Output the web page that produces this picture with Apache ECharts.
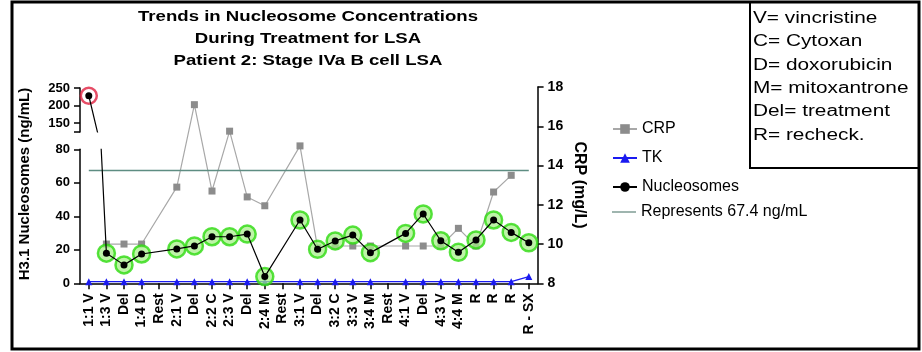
<!DOCTYPE html>
<html><head><meta charset="utf-8">
<script src="https://cdn.jsdelivr.net/npm/echarts@6/dist/echarts.min.js"></script>
<style>html,body{margin:0;padding:0;background:#fff}#c{width:922px;height:352px}</style>
</head><body><div id="c"></div>
<script>
const categories = ['1:1 V','1:3 V','Del','1:4 D','Rest','2:1 V','Del','2:2 C','2:3 V','Del','2:4 M','Rest','3:1 V','Del','3:2 C','3:3 V','3:4 M','Rest','4:1 V','Del','4:3 V','4:4 M','R','R','R','R - SX'];
const nucleosomes = [228, 18, 11, 17.5, null, 20.5, 22.3, 27.8, 27.8, 29.4, 4, null, 37.8, 20.3, 25.3, 28.8, 18.3, null, 29.8, 41.4, 25.4, 18.5, 25.9, 37.8, 30.4, 24.2];
const crp = [null, 10, 10, 10, null, 12.9, 17.1, 12.7, 15.75, 12.4, 11.95, null, 15.0, 9.8, 9.9, 9.9, 9.9, null, 9.9, 9.9, 9.9, 10.8, 9.9, 12.65, 13.5, null];
const tk = [1, 1, 1, 1, null, 1, 1, 1, 1, 1, 1, null, 1, 1, 1, 1, 1, null, 1, 1, 1, 1, 1, 1, 1, 4];
const refLevel = 67.4;
const upperTickLabels = [150, 200, 250];
const titleLines = ['Trends in Nucleosome Concentrations', 'During Treatment for LSA', 'Patient 2: Stage IVa B cell LSA'];
const abbreviations = ['V= vincristine', 'C= Cytoxan', 'D= doxorubicin', 'M= mitoxantrone', 'Del= treatment', 'R= recheck.'];

const FONT = '"Liberation Sans", Arial, sans-serif';
const chart = echarts.init(document.getElementById('c'));
const GL = 80, GW = 457.6;
const axisLineStyle = { show: true, lineStyle: { color: '#000', width: 1.5 } };
const tickStyle = { show: true, length: 6, lineStyle: { color: '#000', width: 1.5 } };
const catAxis = (gi, show) => ({
  type: 'category', gridIndex: gi, data: categories, boundaryGap: true, show: show,
  axisLine: axisLineStyle,
  axisTick: Object.assign({ alignWithLabel: true }, tickStyle),
  axisLabel: { rotate: 90, interval: 0, margin: 10, color: '#000', fontWeight: 'bold', fontSize: 14, fontFamily: FONT },
  splitLine: { show: false }
});

const option = {
  animation: false,
  backgroundColor: '#fff',
  grid: [
    { left: GL, top: 88, width: GW, height: 44, outerBoundsMode: 'none' },
    { left: GL, top: 149.3, width: GW, height: 134, outerBoundsMode: 'none' },
    { left: GL, top: 87, width: GW, height: 196.3, outerBoundsMode: 'none' }
  ],
  xAxis: [catAxis(0, false), catAxis(1, true), catAxis(2, false)],
  yAxis: [
    { type: 'value', gridIndex: 0, min: 125, max: 250,
      axisLine: axisLineStyle,
      axisTick: Object.assign({ customValues: [125].concat(upperTickLabels) }, tickStyle),
      axisLabel: { customValues: upperTickLabels, margin: 10, color: '#000', fontWeight: 'bold', fontSize: 13, fontFamily: FONT },
      splitLine: { show: false } },
    { type: 'value', gridIndex: 1, min: 0, max: 80, interval: 20,
      axisLine: axisLineStyle, axisTick: tickStyle,
      axisLabel: { margin: 10, color: '#000', fontWeight: 'bold', fontSize: 13, fontFamily: FONT },
      splitLine: { show: false } },
    { type: 'value', gridIndex: 2, position: 'right', min: 8, max: 18, interval: 2,
      axisLine: axisLineStyle, axisTick: tickStyle,
      axisLabel: { margin: 10, color: '#000', fontWeight: 'bold', fontSize: 14, fontFamily: FONT },
      splitLine: { show: false } }
  ],
  legend: [
    { data: ['CRP', 'TK', 'Nucleosomes'], orient: 'vertical', left: 607, top: 116,
      itemWidth: 24, itemHeight: 12, itemGap: 13,
      textStyle: { fontSize: 16, color: '#000', fontFamily: FONT } },
    { data: [{ name: 'Represents 67.4 ng/mL', icon: 'rect' }], orient: 'vertical', left: 607, top: 199,
      itemWidth: 24, itemHeight: 1.5,
      textStyle: { fontSize: 16, color: '#000', fontFamily: FONT } }
  ],
  series: [
    { name: 'CRP', type: 'line', xAxisIndex: 2, yAxisIndex: 2, data: crp, connectNulls: true,
      symbol: 'rect', symbolSize: 7, itemStyle: { color: '#8c8c8c' },
      lineStyle: { color: '#a8a8a8', width: 1.2 }, z: 2 },
    { name: 'Represents 67.4 ng/mL', type: 'line', xAxisIndex: 1, yAxisIndex: 1,
      data: categories.map(() => refLevel), symbol: 'none',
      itemStyle: { color: '#7f9c95' }, lineStyle: { color: '#5e8d82', width: 1.5 }, z: 2 },
    { name: 'TK', type: 'line', xAxisIndex: 1, yAxisIndex: 1, data: tk, connectNulls: true,
      symbol: 'triangle', symbolSize: 7, itemStyle: { color: '#1a1af0' },
      lineStyle: { color: '#1a1af0', width: 1.2 }, z: 3 },
    { name: 'halo', type: 'scatter', xAxisIndex: 1, yAxisIndex: 1,
      data: nucleosomes.map((v, i) => i === 0 ? null : v), symbolSize: 17, silent: true,
      itemStyle: { color: 'rgba(165,240,135,0.9)', borderColor: '#2edb10', borderWidth: 2.5 }, z: 4 },
    { name: 'Nucleosomes', type: 'line', xAxisIndex: 1, yAxisIndex: 1, data: nucleosomes, connectNulls: true,
      symbol: 'circle', symbolSize: 7, itemStyle: { color: '#000' },
      lineStyle: { color: '#000', width: 1.2 }, clip: true, z: 5 },
    { name: 'haloRed', type: 'scatter', xAxisIndex: 0, yAxisIndex: 0,
      data: nucleosomes.map((v, i) => i === 0 ? v : null), symbolSize: 16, silent: true,
      itemStyle: { color: '#fff', borderColor: '#e02040', borderWidth: 2.5 }, z: 4 },
    { name: 'Nucleosomes', type: 'line', xAxisIndex: 0, yAxisIndex: 0, data: nucleosomes, connectNulls: true,
      symbol: 'circle', symbolSize: 7, itemStyle: { color: '#000' },
      lineStyle: { color: '#000', width: 1.2 }, clip: true, z: 5 }
  ],
  graphic: [
    { type: 'rect', shape: { x: 12, y: 2, width: 907, height: 347 }, style: { fill: 'none', stroke: '#000', lineWidth: 3 }, z: 100 },
    { type: 'rect', shape: { x: 750, y: 2, width: 169, height: 166 }, style: { fill: '#fff', stroke: '#000', lineWidth: 2 }, z: 90 },
    { type: 'text', x: 753, y: 7, scaleX: 1.3, z: 101,
      style: { text: abbreviations.join('\n'), x: 0, y: 0, align: 'left', verticalAlign: 'top', lineHeight: 23.3,
        font: '16px ' + FONT, fill: '#000' } },
    { type: 'text', x: 308, y: 6, scaleX: 1.2, z: 101,
      style: { text: titleLines.join('\n'), x: 0, y: 0, align: 'center', verticalAlign: 'top', lineHeight: 22,
        font: 'bold 15.5px ' + FONT, fill: '#000' } },
    { type: 'text', x: 25, y: 184, rotation: Math.PI / 2, z: 101,
      style: { text: 'H3.1 Nucleosomes (ng/mL)', x: 0, y: 0, align: 'center', verticalAlign: 'middle',
        font: 'bold 15px ' + FONT, fill: '#000' } },
    { type: 'text', x: 579, y: 185, rotation: -Math.PI / 2, z: 101,
      style: { text: 'CRP (mg/L)', x: 0, y: 0, align: 'center', verticalAlign: 'middle',
        font: 'bold 16px ' + FONT, fill: '#000' } }
  ]
};
chart.setOption(option);
</script>
</body></html>
